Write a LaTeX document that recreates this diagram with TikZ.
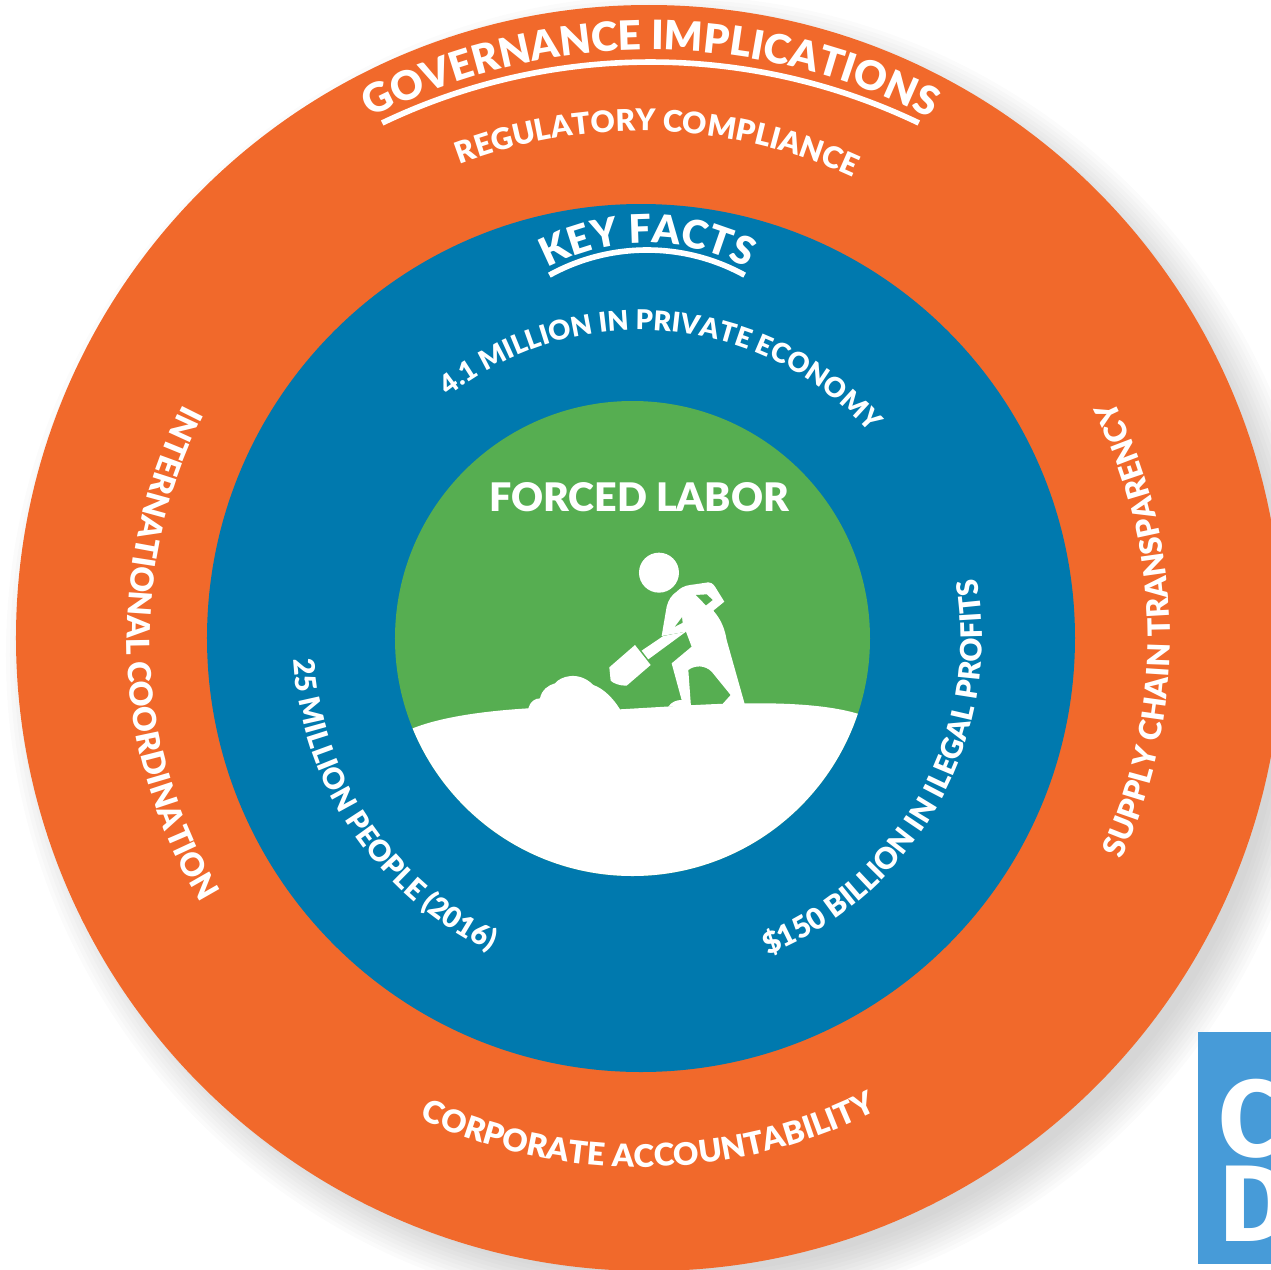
\documentclass[tikz,border=0pt]{standalone}
\usepackage{fontspec}
\setmainfont{Lato}[BoldFont={Lato Black}]
\newfontfamily\logofont{Fira Sans}
\usetikzlibrary{decorations.text}
\definecolor{ringorange}{HTML}{F1692B}
\definecolor{ringblue}{HTML}{0079AE}
\definecolor{ringgreen}{HTML}{56AE51}
\definecolor{logoblue}{HTML}{479BD8}
\tikzstyle{arcline} = [draw=white, line width=3.2pt]
\tikzstyle{logoletter} = [text=white, anchor=base west, inner sep=0pt, font=\logofont\bfseries\fontsize{62}{62}\selectfont]
\tikzset{arclabel/.style 2 args={decorate, decoration={text along path,
  text={|\fontsize{#1}{#1}\selectfont\bfseries\color{white}|#2}, text align=center}}}

\begin{document}
\begin{tikzpicture}[x=.02cm, y=.02cm]
  \useasboundingbox (-640,-631) rectangle (631,638);
  % soft shadow
  \foreach \r in {620,624,...,662}
    \fill[black, opacity=.016] (26,-17) circle (\r);

  % rings
  \fill[ringorange] (9,0) circle (633);
  \fill[ringblue] (1,0) circle (434);
  \fill[ringgreen] (-7.5,-.5) circle (237.5);

  % ground, figure and heap, in the coordinates of the crop
  \begin{scope}
    \clip (-7.5,-.5) circle (237.5);
    \begin{scope}[shift={(-240,108)}, x=.00667cm, y=-.00667cm]
      \fill[white] (-20,625) .. controls (60,570) and (220,545) .. (385,535)
        .. controls (390,515) and (405,505) .. (420,505)
        .. controls (425,480) and (445,465) .. (465,460)
        .. controls (480,440) and (535,420) .. (580,465)
        .. controls (610,475) and (640,505) .. (660,538)
        .. controls (800,530) and (950,520) .. (1035,520)
        .. controls (1200,518) and (1320,530) .. (1400,560)
        -- (1400,1200) -- (-20,1200) -- cycle;
      \fill[white] (777,128) circle (60);
      \fill[white] (830,185) .. controls (850,165) and (870,165) .. (885,163)
        -- (925,157) .. controls (940,158) and (945,170) .. (950,178)
        -- (973,215) -- (940,242) .. controls (965,270) and (975,300) .. (980,330)
        -- (1035,525) -- (965,525) -- (992,495) -- (935,425)
        .. controls (915,405) and (885,405) .. (865,420) -- (873,530) -- (805,530)
        .. controls (815,515) and (830,510) .. (845,510) -- (815,400) -- (875,350)
        -- (858,305) -- (785,318) -- (800,230) .. controls (805,210) and (815,195) .. (830,185) -- cycle;
      \fill[white] (628,412) -- (705,345) -- (752,405) -- (680,467)
        .. controls (660,468) and (640,460) .. (632,452) -- cycle;
      \fill[white] (725,362) -- (790,318) -- (858,305) -- (745,388) -- cycle;
      \fill[ringgreen] (888,195) -- (920,193) -- (938,210) -- (918,226) -- cycle;
      \fill[ringgreen] (825,290) -- (846,262) -- (848,278) -- cycle;
    \end{scope}
  \end{scope}

  \node[text=white, font=\bfseries\fontsize{22.4}{22.4}\selectfont] (forced) at (-1,141) {FORCED LABOR};

  % outer ring labels
  \path[arclabel={23}{GOVERNANCE IMPLICATIONS}] (10.5,-20) ++(130:608) arc (130:50:608);
  \draw[arcline] (10.5,-45) ++(115.6:621) arc (115.6:64.4:621);
  \path[arclabel={17}{REGULATORY COMPLIANCE}] (0,0) ++(125:507) arc (125:51:507);
  \path[arclabel={18.1}{INTERNATIONAL COORDINATION}] (0,0) ++(132:513) arc (132:232:513);
  \path[arclabel={17.5}{SUPPLY CHAIN TRANSPARENCY}] (0,0) ++(-49:530) arc (-49:51:530);
  \path[arclabel={17.8}{CORPORATE ACCOUNTABILITY}] (0,0) ++(220:529) arc (220:322:529);

  % inner ring labels
  \path[arclabel={22.4}{KEY FACTS}] (7,186) ++(135:209) arc (135:45:209);
  \draw[arcline] (7,186) ++(118.9:202) arc (118.9:61.1:202);
  \path[arclabel={15.5}{4.1 MILLION IN PRIVATE ECONOMY}] (0,0) ++(135:308) arc (135:35:308);
  \path[arclabel={16.5}{25 MILLION PEOPLE (2016)}] (0,0) ++(170:347) arc (170:258:347);
  \path[arclabel={16.8}{{\$}150 BILLION IN ILEGAL PROFITS}] (0,0) ++(-75:342) arc (-75:17:342);

  % logo, cut by the page edge
  \fill[logoblue] (558,-394) rectangle (631,-626);
  \node[logoletter] (logoc) at (578,-518) {C};
  \node[logoletter] (logod) at (579,-603) {D};
\end{tikzpicture}
\end{document}
